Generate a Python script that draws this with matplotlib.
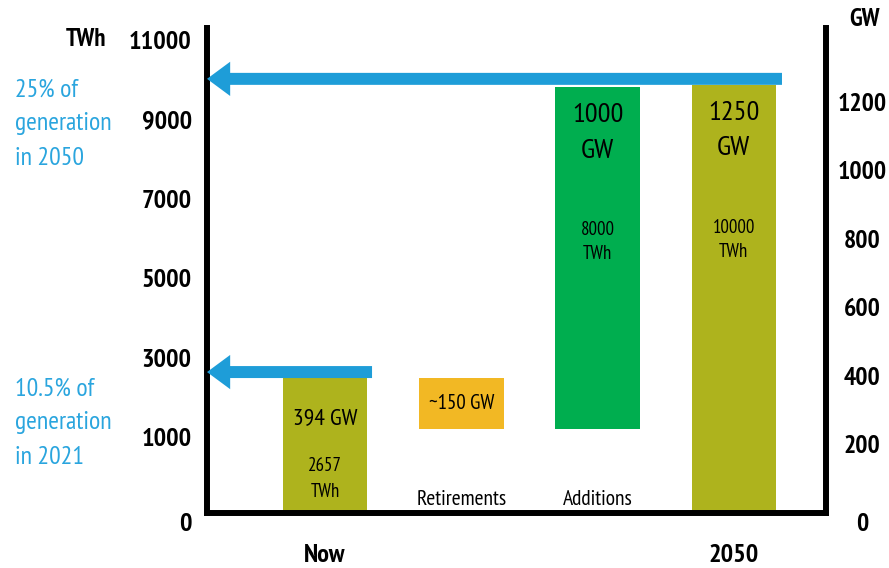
import numpy as np
import matplotlib
matplotlib.use("Agg")
import matplotlib.pyplot as plt
from matplotlib import font_manager

# ---- data -------------------------------------------------------------
categories = ["Now", "Retirements", "Additions", "2050"]
gw_change = [394, -150, 1000, 1250]          # waterfall steps (GW)
is_total = [True, False, False, True]
gw_text = ["394 GW", "~150 GW", "1000\nGW", "1250\nGW"]
twh_text = ["2657\nTWh", "", "8000\nTWh", "10000\nTWh"]
gw_ticks = [0, 200, 400, 600, 800, 1000, 1200]
twh_ticks = [0, 1000, 3000, 5000, 7000, 9000, 11000]
# schematic TWh axis: (TWh, GW position) anchors
twh_anchor = [0, 1000, 11000]
gw_anchor = [0, 222, 1381]
share_text = ["10.5% of\ngeneration\nin 2021", "25% of\ngeneration\nin 2050"]

OLIVE = "#AEB31D"
ORANGE = "#F2B824"
GREEN = "#00AE4F"
BLUE = "#1E9DD8"
BLUE_TXT = "#2AA5DE"

names = {f.name for f in font_manager.fontManager.ttflist}
NARROW = "Liberation Sans"
for cand in ["Liberation Sans Narrow", "Arial Narrow", "PT Sans Narrow", "Pragati Narrow",
             "Archivo Narrow", "Roboto Condensed"]:
    if cand in names:
        NARROW = cand
        break
plt.rcParams["font.family"] = [NARROW, "DejaVu Sans"]

# ---- bar geometry from the waterfall ---------------------------------
bottoms, heights = [], []
level = 0
for step, tot in zip(gw_change, is_total):
    if tot:
        bottoms.append(0)
        heights.append(step)
        level = step
    elif step < 0:
        level += step
        bottoms.append(level)
        heights.append(-step)
    else:
        bottoms.append(level)
        heights.append(step)
        level += step
colors = [OLIVE, ORANGE, GREEN, OLIVE]

fig = plt.figure(figsize=(8.89, 5.68), dpi=100)
ax = fig.add_axes([207 / 889, 1 - 513 / 568, (826 - 207) / 889, (513 - 28) / 568])

x = np.arange(len(categories))
ax.bar(x, heights, bottom=bottoms, width=0.62, color=colors, zorder=2)
ax.set_xlim(-0.866, 3.676)
ax.set_ylim(0, 1416)

# spines
for side in ["left", "bottom", "right"]:
    ax.spines[side].set_linewidth(4.3)
    ax.spines[side].set_color("black")
ax.spines["top"].set_visible(False)

# right GW axis
ax.yaxis.tick_right()
ax.set_yticks(gw_ticks)
ax.set_yticklabels([str(t) for t in gw_ticks], fontsize=18.5, fontweight="bold")
for lab in ax.get_yticklabels():
    lab.set_horizontalalignment("center")
ax.get_yticklabels()[0].set_verticalalignment("top")
ax.tick_params(axis="y", length=0, pad=26)


# left TWh axis (schematic, piecewise linear through the anchors)
def gw2twh(v):
    v = np.asarray(v, dtype=float)
    lo = v * twh_anchor[1] / gw_anchor[1]
    hi = twh_anchor[1] + (v - gw_anchor[1]) * (twh_anchor[2] - twh_anchor[1]) / (gw_anchor[2] - gw_anchor[1])
    return np.where(v < gw_anchor[1], lo, hi)


def twh2gw(v):
    v = np.asarray(v, dtype=float)
    lo = v * gw_anchor[1] / twh_anchor[1]
    hi = gw_anchor[1] + (v - twh_anchor[1]) * (gw_anchor[2] - gw_anchor[1]) / (twh_anchor[2] - twh_anchor[1])
    return np.where(v < twh_anchor[1], lo, hi)


sec = ax.secondary_yaxis("left", functions=(gw2twh, twh2gw))
sec.set_yticks(twh_ticks)
sec.set_yticklabels([str(t) for t in twh_ticks], fontsize=19, fontweight="bold")
sec.get_yticklabels()[0].set_verticalalignment("top")
sec.tick_params(length=0, pad=11)
sec.spines["left"].set_visible(False)

# x axis: only the totals as tick labels
tot_idx = [i for i, t in enumerate(is_total) if t]
ax.set_xticks(x[tot_idx])
ax.set_xticklabels([categories[i] for i in tot_idx], fontsize=19, fontweight="bold")
ax.tick_params(axis="x", length=0, pad=22)

# inner category names
for i, t in enumerate(is_total):
    if not t:
        ax.text(x[i], 40, categories[i], ha="center", va="center", fontsize=15.5, zorder=3)

# bar annotations
for i in range(len(categories)):
    b, h = bottoms[i], heights[i]
    if i == 0:
        ax.text(x[i], b + h * 0.70, gw_text[i], ha="center", va="center", fontsize=17, zorder=3)
        ax.text(x[i], b + h * 0.25, twh_text[i], ha="center", va="center", fontsize=13.5,
                linespacing=1.6, zorder=3)
    elif i == 1:
        ax.text(x[i], b + h * 0.5, gw_text[i], ha="center", va="center", fontsize=15, zorder=3)
    else:
        top = b + h
        ax.text(x[i], top - 134, gw_text[i], ha="center", va="center", fontsize=20.5,
                linespacing=1.6, zorder=3)
        ax.text(x[i], top - 452, twh_text[i], ha="center", va="center", fontsize=13.5,
                linespacing=1.45, zorder=3)

# share arrows pointing at the TWh axis
shaft = 35
for xi, tail in [(0, 0.345), (3, 3.353)]:
    yv = heights[xi] + bottoms[xi] + shaft / 2
    x0 = ax.get_xlim()[0]
    ax.arrow(tail, yv, x0 - tail, 0, width=shaft, head_width=100, head_length=0.17,
             length_includes_head=True, color=BLUE, lw=0, clip_on=False, zorder=4)

# side texts
fig.text(86 / 889, 1 - 40 / 568, "TWh", ha="center", va="center", fontsize=18, fontweight="bold")
fig.text(864 / 889, 1 - 20 / 568, "GW", ha="center", va="center", fontsize=18, fontweight="bold")
fig.text(15 / 889, 1 - 423 / 568, share_text[0], ha="left", va="center", fontsize=18.5,
         color=BLUE_TXT, linespacing=1.62)
fig.text(15 / 889, 1 - 124 / 568, share_text[1], ha="left", va="center", fontsize=18.5,
         color=BLUE_TXT, linespacing=1.62)

fig.savefig("out.png", dpi=100)
